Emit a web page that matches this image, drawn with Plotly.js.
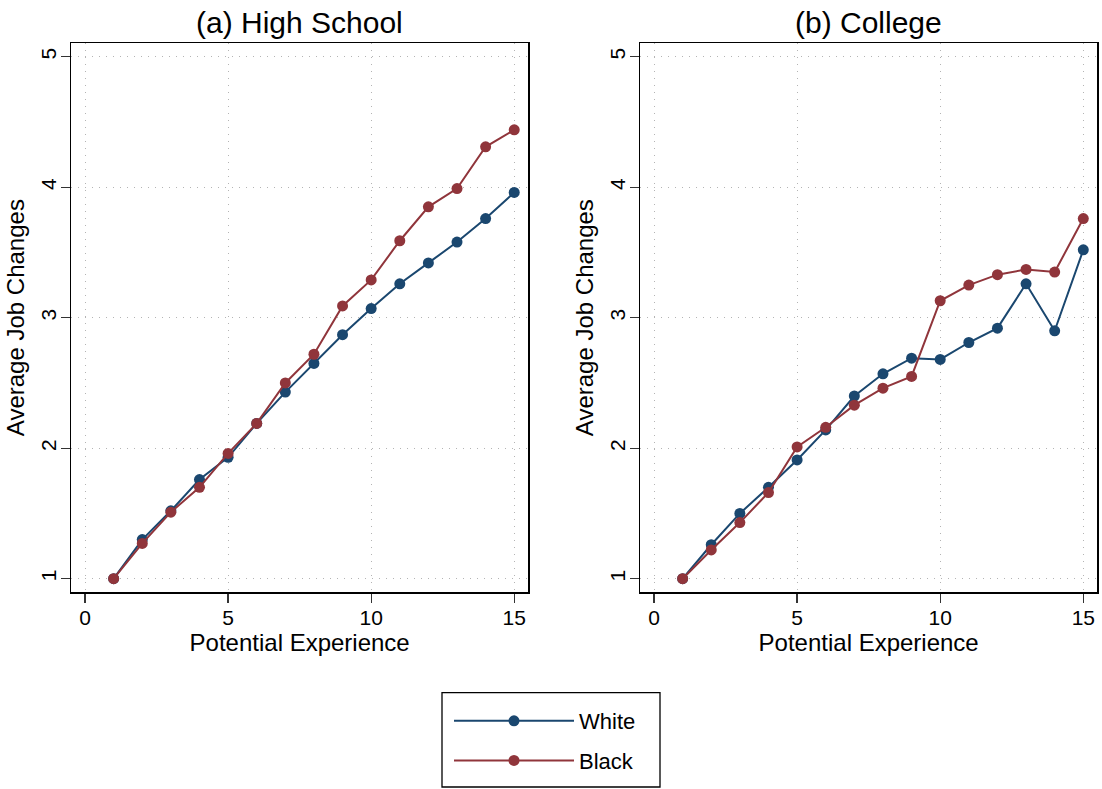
<!DOCTYPE html>
<html><head><meta charset="utf-8">
<script src="https://cdn.plot.ly/plotly-3.0.1.min.js"></script>
<style>html,body{margin:0;padding:0;background:#fff}</style>
</head><body><div id="chart" style="width:1102px;height:789px"></div>
<script>
const experience = [1,2,3,4,5,6,7,8,9,10,11,12,13,14,15];
const hsWhite  = [1.00,1.30,1.52,1.76,1.93,2.19,2.43,2.65,2.87,3.07,3.26,3.42,3.58,3.76,3.96];
const hsBlack  = [1.00,1.27,1.51,1.70,1.96,2.19,2.50,2.72,3.09,3.29,3.59,3.85,3.99,4.31,4.44];
const colWhite = [1.00,1.26,1.50,1.70,1.91,2.14,2.40,2.57,2.69,2.68,2.81,2.92,3.26,2.90,3.52];
const colBlack = [1.00,1.22,1.43,1.66,2.01,2.16,2.33,2.46,2.55,3.13,3.25,3.33,3.37,3.35,3.76];
const panelTitles = ['(a) High School', '(b) College'];
const seriesNames = ['White', 'Black'];
const xTicks = [0,5,10,15];
const yTicks = [1,2,3,4,5];

const NAVY = '#1a476f', MAROON = '#90353b';
const FONT = 'Liberation Sans, Arial, Helvetica, sans-serif';

function tr(y, name, color, xa, ya, show) {
  return {x: experience, y: y, name: name, type: 'scatter', mode: 'lines+markers',
    xaxis: xa, yaxis: ya, showlegend: show, legendgroup: name,
    line: {color: color, width: 2}, marker: {color: color, size: 11}};
}
const data = [
  tr(hsWhite, seriesNames[0], NAVY, 'x', 'y', true),
  tr(hsBlack, seriesNames[1], MAROON, 'x', 'y', true),
  tr(colWhite, seriesNames[0], NAVY, 'x2', 'y2', false),
  tr(colBlack, seriesNames[1], MAROON, 'x2', 'y2', false)
];

function xax(domain, anchor) {
  return {domain: domain, anchor: anchor, range: [-0.48, 15.48], tickvals: xTicks,
    showline: true, mirror: true, linecolor: '#000', linewidth: 1.6,
    ticks: 'outside', ticklen: 9, tickwidth: 1.3, tickcolor: '#333',
    showgrid: true, gridcolor: '#b4b4b4', gridwidth: 1, griddash: '1px,6px', zeroline: false,
    tickfont: {family: FONT, size: 21, color: '#000'}, ticklabelstandoff: -3,
    title: {text: 'Potential Experience', font: {family: FONT, size: 24, color: '#000'}, standoff: 2}};
}
function yax(domain, anchor) {
  return {domain: domain, anchor: anchor, range: [0.898, 5.103], tickvals: yTicks, tickangle: -90,
    showline: true, mirror: true, linecolor: '#000', linewidth: 1.6,
    ticks: 'outside', ticklen: 9, tickwidth: 1.3, tickcolor: '#333',
    showgrid: true, gridcolor: '#b4b4b4', gridwidth: 1, griddash: '1px,6px', zeroline: false,
    tickfont: {family: FONT, size: 21, color: '#000'}, ticklabelstandoff: -4,
    title: {text: 'Average Job Changes', font: {family: FONT, size: 24, color: '#000'}, standoff: 6}};
}

const layout = {
  width: 1102, height: 789,
  margin: {l: 0, r: 0, t: 0, b: 0},
  paper_bgcolor: '#fff', plot_bgcolor: '#fff',
  font: {family: FONT, color: '#000'},
  xaxis: xax([0.0647, 0.4791], 'y'),
  yaxis: yax([0.2497, 0.9451], 'x'),
  xaxis2: xax([0.5810, 0.9955], 'y2'),
  yaxis2: yax([0.2497, 0.9451], 'x2'),
  showlegend: true,
  legend: {x: 449/1102, y: 1 - 700/789, xanchor: 'left', yanchor: 'top',
    borderwidth: 0, bgcolor: 'rgba(0,0,0,0)',
    font: {family: FONT, size: 22, color: '#000'},
    itemwidth: 120, tracegroupgap: 8, traceorder: 'grouped'},
  shapes: [
    {type: 'rect', xref: 'paper', yref: 'paper', x0: 442/1102, x1: 660/1102, y0: 1 - 787/789, y1: 1 - 692.7/789,
     line: {color: '#000', width: 1.3}, fillcolor: 'rgba(0,0,0,0)', layer: 'below'}
  ],
  annotations: [
    {text: panelTitles[0], xref: 'paper', yref: 'paper', x: 0.2719, y: 1 - 22/789,
     xanchor: 'center', yanchor: 'middle', showarrow: false, font: {family: FONT, size: 30, color: '#000'}},
    {text: panelTitles[1], xref: 'paper', yref: 'paper', x: 0.7882, y: 1 - 22/789,
     xanchor: 'center', yanchor: 'middle', showarrow: false, font: {family: FONT, size: 30, color: '#000'}}
  ]
};
Plotly.newPlot('chart', data, layout, {displayModeBar: false, staticPlot: true});
</script></body></html>
